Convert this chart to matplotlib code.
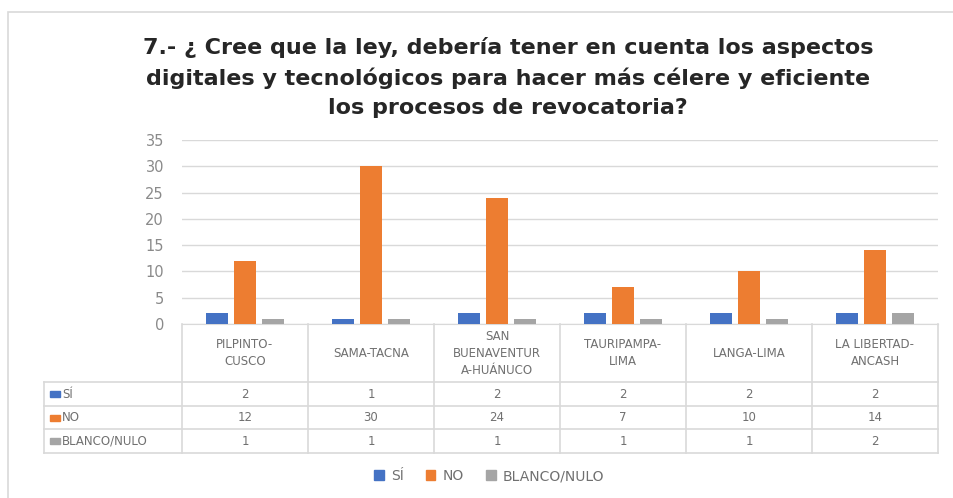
import numpy as np
import matplotlib.pyplot as plt
from matplotlib.patches import Rectangle, Patch
from matplotlib.transforms import blended_transform_factory

# survey answers per district
lugares = ['PILPINTO-\nCUSCO', 'SAMA-TACNA', 'SAN\nBUENAVENTUR\nA-HUÁNUCO',
           'TAURIPAMPA-\nLIMA', 'LANGA-LIMA', 'LA LIBERTAD-\nANCASH']
si = [2, 1, 2, 2, 2, 2]
no = [12, 30, 24, 7, 10, 14]
blanco = [1, 1, 1, 1, 1, 2]
series = ['SÍ', 'NO', 'BLANCO/NULO']
colores = ['#4472C4', '#ED7D31', '#A5A5A5']

W, H = 954, 498
fig = plt.figure(figsize=(W / 100, H / 100), dpi=100)
plt.rcParams['font.family'] = ['DejaVu Sans']

def fy(py):
    # pixel row (from top) -> figure fraction
    return 1 - py / H

# chart frame
fig.patches.append(Rectangle((8 / W, fy(600)), 1.2, fy(12) - fy(600),
                             transform=fig.transFigure, fill=False,
                             edgecolor='#D9D9D9', lw=1.2))

titulo = ['7.- ¿ Cree que la ley, debería tener en cuenta los aspectos',
          'digitales y tecnológicos para hacer más célere y eficiente',
          'los procesos de revocatoria?']
for linea, py in zip(titulo, [47, 78, 108]):
    fig.text(508 / W, fy(py), linea, ha='center', va='center',
             fontsize=16, fontweight='bold', color='#262626')

x0, x1 = 182, 938
ax = fig.add_axes([x0 / W, fy(324), (x1 - x0) / W, fy(140) - fy(324)])
x = np.arange(len(lugares))
w, d = 0.175, 0.22
for k, (vals, c) in enumerate(zip([si, no, blanco], colores)):
    ax.bar(x + (k - 1) * d, vals, width=w, color=c, zorder=3)

ax.set_xlim(-0.5, len(lugares) - 0.5)
ax.set_ylim(0, 35)
ax.set_yticks(range(0, 36, 5))
ax.yaxis.grid(True, color='#D9D9D9', lw=1)
ax.set_axisbelow(True)
ax.tick_params(axis='y', length=0, labelsize=10.5, labelcolor='#8A8A8A', pad=13)
ax.tick_params(axis='x', length=0, labelbottom=False)
for s in ['top', 'right', 'left']:
    ax.spines[s].set_visible(False)
ax.spines['bottom'].set_color('#D9D9D9')

# data table under the axis
tr = blended_transform_factory(ax.transData, fig.transFigure)
lc = '#D9D9D9'
tc = '#707070'
rows = [324, 382, 406, 429, 453]
for i in range(len(lugares) + 1):
    ax.plot([i - 0.5, i - 0.5], [fy(324), fy(453)], transform=tr, color=lc,
            lw=1.2, clip_on=False)
for r in rows[1:]:
    fig.add_artist(plt.Line2D([44 / W, x1 / W], [fy(r), fy(r)], color=lc, lw=1.2))
fig.add_artist(plt.Line2D([44 / W, 44 / W], [fy(382), fy(453)], color=lc, lw=1.2))

for i, lab in enumerate(lugares):
    ax.text(i, fy(353), lab, transform=tr, ha='center', va='center',
            fontsize=8.5, color=tc, linespacing=1.4)
for j, vals in enumerate([si, no, blanco]):
    yc = fy((rows[j + 1] + rows[j + 2]) / 2)
    for i, v in enumerate(vals):
        ax.text(i, yc, str(v), transform=tr, ha='center', va='center',
                fontsize=8.5, color=tc)
    fig.patches.append(Rectangle((50 / W, yc - 3 / H), 10 / W, 6 / H,
                                 transform=fig.transFigure, color=colores[j]))
    fig.text(62 / W, yc, series[j], ha='left', va='center', fontsize=8.5, color=tc)

handles = [Patch(color=c) for c in colores]
fig.legend(handles, series, loc='center', bbox_to_anchor=(489 / W, fy(476)), ncol=3,
           frameon=False, fontsize=10, handlelength=0.7, handleheight=0.7,
           handletextpad=0.5, columnspacing=1.6, labelcolor=tc)

fig.savefig('out.png', dpi=100)
